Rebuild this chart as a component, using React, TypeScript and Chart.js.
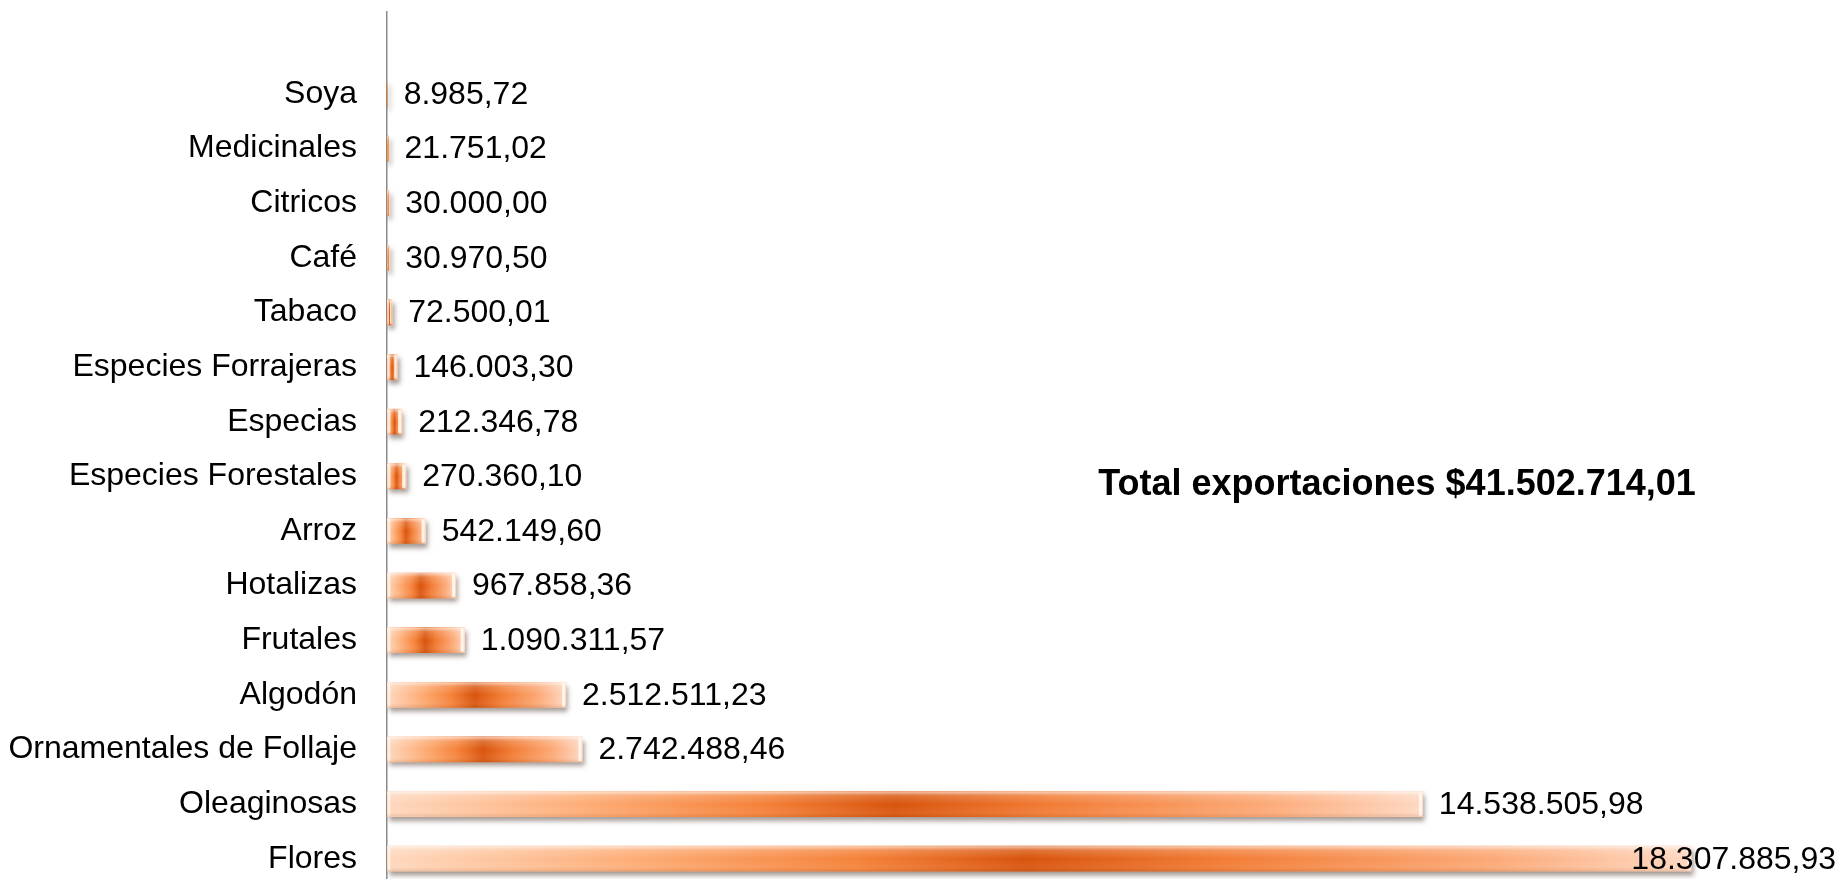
import React, { useEffect, useRef } from "react";
import { Chart, registerables } from "chart.js";

Chart.register(...registerables);

// Bottom-to-top order (first category drawn at the bottom)
const categories: string[] = [
  "Flores",
  "Oleaginosas",
  "Ornamentales de Follaje",
  "Algodón",
  "Frutales",
  "Hotalizas",
  "Arroz",
  "Especies Forestales",
  "Especias",
  "Especies Forrajeras",
  "Tabaco",
  "Café",
  "Citricos",
  "Medicinales",
  "Soya",
];

const values: number[] = [
  18307885.93, 14538505.98, 2742488.46, 2512511.23, 1090311.57, 967858.36,
  542149.6, 270360.1, 212346.78, 146003.3, 72500.01, 30970.5, 30000.0,
  21751.02, 8985.72,
];

const titleText = "Total exportaciones $41.502.714,01";
const xMax = 20000000;
const yMin = -0.5;
const yMax = 15.5;

const FONT = "'Liberation Sans', Arial, sans-serif";

function formatEs(v: number): string {
  const [intPart, dec] = v.toFixed(2).split(".");
  const grouped = intPart.replace(/\B(?=(\d{3})+(?!\d))/g, ".");
  return grouped + "," + dec;
}

const effectsPlugin = {
  id: "effects",
  beforeDatasetDraw(chart: any) {
    const ctx = chart.ctx;
    ctx.save();
    ctx.shadowColor = "rgba(70,50,40,0.5)";
    ctx.shadowBlur = 5;
    ctx.shadowOffsetX = 2;
    ctx.shadowOffsetY = 4;
  },
  afterDatasetDraw(chart: any, args: any) {
    const ctx = chart.ctx;
    ctx.restore();
    ctx.save();
    args.meta.data.forEach((bar: any) => {
      const { x, y, base, height } = bar.getProps(["x", "y", "base", "height"], true);
      const top = y - height / 2;
      const left = Math.min(base, x);
      const w = Math.abs(x - base);
      if (w <= 0) return;
      const g = ctx.createLinearGradient(0, top, 0, top + height);
      g.addColorStop(0, "rgba(255,255,255,0.65)");
      g.addColorStop(0.16, "rgba(255,255,255,0.18)");
      g.addColorStop(0.5, "rgba(255,255,255,0)");
      g.addColorStop(0.8, "rgba(255,255,255,0.06)");
      g.addColorStop(1, "rgba(150,70,20,0.15)");
      ctx.fillStyle = g;
      ctx.fillRect(left, top, w, height);
      if (w > 4) {
        const sw = Math.min(3, w / 5);
        ctx.fillStyle = "rgba(255,248,240,0.9)";
        ctx.fillRect(x - sw - 1, top + 1, sw, height - 2);
        ctx.fillStyle = "rgba(255,248,240,0.7)";
        ctx.fillRect(left + 1, top + 1, sw * 0.8, height - 2);
      }
    });
    ctx.restore();
  },
  afterDatasetsDraw(chart: any) {
    const ctx = chart.ctx;
    const meta = chart.getDatasetMeta(0);
    ctx.save();
    ctx.font = `32px ${FONT}`;
    ctx.fillStyle = "#000";
    ctx.textBaseline = "middle";
    meta.data.forEach((bar: any, i: number) => {
      const { x, y } = bar.getProps(["x", "y"], true);
      const txt = formatEs(values[i]);
      const tw = ctx.measureText(txt).width;
      let tx = x + 16;
      if (tx + tw > chart.width - 1) {
        ctx.textAlign = "right";
        tx = chart.width - 1;
      } else {
        ctx.textAlign = "left";
      }
      ctx.fillText(txt, tx, y + 1);
    });
    ctx.font = `bold 36px ${FONT}`;
    ctx.textAlign = "center";
    ctx.fillText(titleText, 1397, 485);
    ctx.restore();
  },
};

export default function App() {
  const canvasRef = useRef<HTMLCanvasElement | null>(null);

  useEffect(() => {
    if (!canvasRef.current) return;
    const chart = new Chart(canvasRef.current, {
      type: "bar",
      data: {
        datasets: [
          {
            data: values.map((v, i) => ({ x: v, y: i })),
            barThickness: 25,
            backgroundColor: (c: any) => {
              const ch = c.chart;
              const xs = ch.scales && ch.scales.x;
              if (!xs || c.type !== "data") return "#F28A45";
              const x0 = xs.getPixelForValue(0);
              const x1 = xs.getPixelForValue(values[c.dataIndex]);
              if (!isFinite(x0) || !isFinite(x1) || x1 - x0 < 2) return "#F5923F";
              const g = ch.ctx.createLinearGradient(x0, 0, x1, 0);
              g.addColorStop(0, "#FED8BE");
              g.addColorStop(0.2, "#FDAA72");
              g.addColorStop(0.36, "#F5823A");
              g.addColorStop(0.49, "#D8540C");
              g.addColorStop(0.64, "#F27C35");
              g.addColorStop(0.85, "#FCAA78");
              g.addColorStop(1, "#FED8C2");
              return g;
            },
            borderWidth: 0,
          },
        ],
      },
      options: {
        indexAxis: "y",
        responsive: false,
        maintainAspectRatio: false,
        animation: false,
        devicePixelRatio: 1,
        layout: { padding: { left: 0, top: 12, right: 25, bottom: 0 } },
        plugins: {
          legend: { display: false },
          tooltip: { enabled: false },
          title: { display: false },
        },
        scales: {
          x: {
            type: "linear",
            min: 0,
            max: xMax,
            display: false,
          },
          y: {
            type: "linear",
            min: yMin,
            max: yMax,
            offset: false,
            position: "left",
            grid: { display: false, drawTicks: false, tickLength: 0, offset: false },
            border: { display: true, color: "#8a8a8a", width: 1.5 },
            afterBuildTicks: (scale: any) => {
              scale.ticks = categories.map((_, i) => ({ value: i }));
            },
            afterFit: (scale: any) => {
              scale.width = 387;
              scale.paddingTop = 0;
              scale.paddingBottom = 0;
            },
            ticks: {
              autoSkip: false,
              padding: 30,
              color: "#000",
              font: { family: FONT, size: 32 },
              callback: (v: any) => categories[v] ?? "",
            },
          },
        },
      } as any,
      plugins: [effectsPlugin],
    });
    return () => chart.destroy();
  }, []);

  return (
    <div
      style={{
        position: "fixed",
        left: 0,
        top: 0,
        width: 1837,
        height: 879,
        overflow: "hidden",
        background: "#fff",
      }}
    >
      <canvas ref={canvasRef} width={1837} height={886} style={{ display: "block" }} />
    </div>
  );
}
